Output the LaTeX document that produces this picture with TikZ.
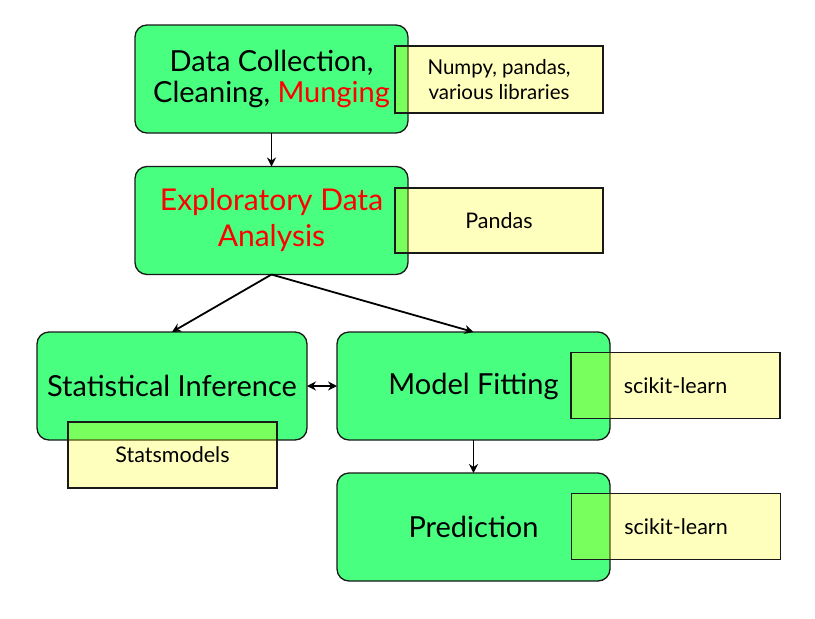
\documentclass[tikz,border=0pt]{standalone}
\usepackage{fontspec}
\setmainfont{Lato}
\usetikzlibrary{arrows.meta}
\definecolor{stagegreen}{RGB}{73,255,128}
\definecolor{toolyellow}{RGB}{255,255,0}
\definecolor{edgegray}{RGB}{25,25,25}
\begin{document}
\begin{tikzpicture}[x=1pt,y=-1pt,
  stage/.style={draw=edgegray,line width=1.3pt,fill=stagegreen,rounded corners=12pt,
    minimum width=273pt,minimum height=108pt,inner sep=0pt,outer sep=0pt,
    align=center,font=\fontsize{29}{34}\selectfont},
  tool/.style={draw=edgegray,line width=1.3pt,fill=toolyellow,fill opacity=0.26,text opacity=1,
    minimum width=209pt,minimum height=66pt,inner sep=0pt,outer sep=0pt,
    align=center,font=\fontsize{21.5}{25}\selectfont},
  tip/.tip={Stealth[length=9pt,width=9pt]},
  flow/.style={line width=1.8pt,-tip},
  both/.style={line width=1.8pt,tip-tip}]
\useasboundingbox (0,0) rectangle (815,619);

% pipeline stages
\node[stage,font=\fontsize{29}{31}\selectfont] (collect) at (271.5,79)
  {Data Collection,\\Cleaning, \textcolor{red}{Munging}};
\node[stage,font=\fontsize{30}{36}\selectfont] (eda) at (271.5,220.5)
  {\textcolor{red}{Exploratory Data}\\\textcolor{red}{Analysis}};
\node[stage,minimum width=270pt] (infer) at (172,386) {Statistical Inference};
\node[stage] (fit) at (473.5,386) {Model Fitting};
\node[stage] (pred) at (473.5,527) {Prediction};

% tool boxes laid over the stages
\node[tool,minimum width=208pt,minimum height=67pt,font=\fontsize{20.5}{25}\selectfont]
  (numpy) at (499,79.5) {Numpy, pandas,\\various libraries};
\node[tool,minimum width=208pt,minimum height=65pt] (pandas) at (499,220.5) {Pandas};
\node[tool] (sklfit) at (675.5,385.5) {scikit-learn};
\node[tool] (statsm) at (172.5,455) {Statsmodels};
\node[tool] (sklpred) at (676,526.5) {scikit-learn};

% connectors
\draw[flow] (collect.south) -- (eda.north);
\draw[flow] (eda.south) -- (infer.north);
\draw[flow] (eda.south) -- (fit.north);
\draw[both] (infer.east) -- (fit.west);
\draw[flow] (fit.south) -- (pred.north);
\end{tikzpicture}
\end{document}
